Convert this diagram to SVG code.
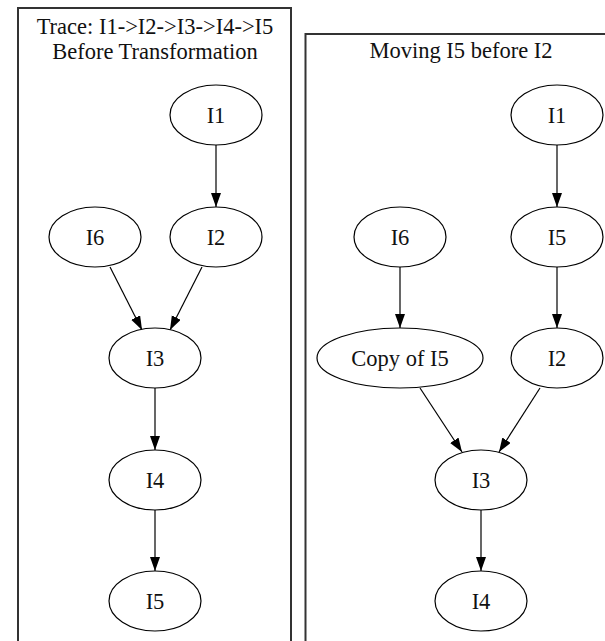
<svg xmlns="http://www.w3.org/2000/svg" width="605" height="641" viewBox="0 0 605 641">
<style>
.box{fill:none;stroke:#333;stroke-width:2}
.node ellipse{fill:#fff;stroke:#000;stroke-width:1.2}
text{font-family:"Liberation Serif","Times New Roman",serif;font-size:22.5px;fill:#111;text-anchor:middle}
.edge{stroke:#000;stroke-width:1.2;fill:none;marker-end:url(#arr)}
</style>
<defs>
<marker id="arr" markerUnits="userSpaceOnUse" markerWidth="15" markerHeight="11" refX="14" refY="5" orient="auto">
<path d="M0,0 L14,5 L0,10 z" fill="#000"/>
</marker>
</defs>
<rect width="605" height="641" fill="#fff"/>
<g id="cluster-before">
<path class="box" d="M18,641 V8 H291 V641"/>
<text x="155" y="34">Trace: I1-&gt;I2-&gt;I3-&gt;I4-&gt;I5</text>
<text x="155" y="59">Before Transformation</text>
</g>
<g id="cluster-after">
<path class="box" d="M305.5,641 V34 H606"/>
<text x="461" y="58">Moving I5 before I2</text>
</g>
<g id="edges">
<line class="edge" x1="216" y1="145" x2="216" y2="207"/>
<line class="edge" x1="110" y1="267" x2="142" y2="330"/>
<line class="edge" x1="202" y1="267" x2="170" y2="330"/>
<line class="edge" x1="155" y1="388" x2="155" y2="450"/>
<line class="edge" x1="155" y1="510" x2="155" y2="571"/>
<line class="edge" x1="557" y1="145" x2="557" y2="207"/>
<line class="edge" x1="400" y1="267" x2="400" y2="328"/>
<line class="edge" x1="557" y1="267" x2="557" y2="328"/>
<line class="edge" x1="420" y1="388" x2="462" y2="452"/>
<line class="edge" x1="540" y1="388" x2="499" y2="452"/>
<line class="edge" x1="481" y1="510" x2="481" y2="571"/>
</g>
<g id="L_I1" class="node"><ellipse cx="216" cy="115" rx="46" ry="30"/><text x="216" y="123">I1</text></g>
<g id="L_I6" class="node"><ellipse cx="95" cy="237" rx="46" ry="30"/><text x="95" y="245">I6</text></g>
<g id="L_I2" class="node"><ellipse cx="216" cy="237" rx="46" ry="30"/><text x="216" y="245">I2</text></g>
<g id="L_I3" class="node"><ellipse cx="155" cy="358" rx="46" ry="30"/><text x="155" y="366">I3</text></g>
<g id="L_I4" class="node"><ellipse cx="155" cy="480" rx="46" ry="30"/><text x="155" y="488">I4</text></g>
<g id="L_I5" class="node"><ellipse cx="155" cy="601" rx="46" ry="30"/><text x="155" y="609">I5</text></g>
<g id="R_I1" class="node"><ellipse cx="557" cy="115" rx="46" ry="30"/><text x="557" y="123">I1</text></g>
<g id="R_I6" class="node"><ellipse cx="400" cy="237" rx="46" ry="30"/><text x="400" y="245">I6</text></g>
<g id="R_I5" class="node"><ellipse cx="557" cy="237" rx="46" ry="30"/><text x="557" y="245">I5</text></g>
<g id="R_Copy" class="node"><ellipse cx="400" cy="358" rx="83" ry="30"/><text x="400" y="366">Copy of I5</text></g>
<g id="R_I2" class="node"><ellipse cx="557" cy="358" rx="46" ry="30"/><text x="557" y="366">I2</text></g>
<g id="R_I3" class="node"><ellipse cx="481" cy="480" rx="46" ry="30"/><text x="481" y="488">I3</text></g>
<g id="R_I4" class="node"><ellipse cx="481" cy="601" rx="46" ry="30"/><text x="481" y="609">I4</text></g>
</svg>
